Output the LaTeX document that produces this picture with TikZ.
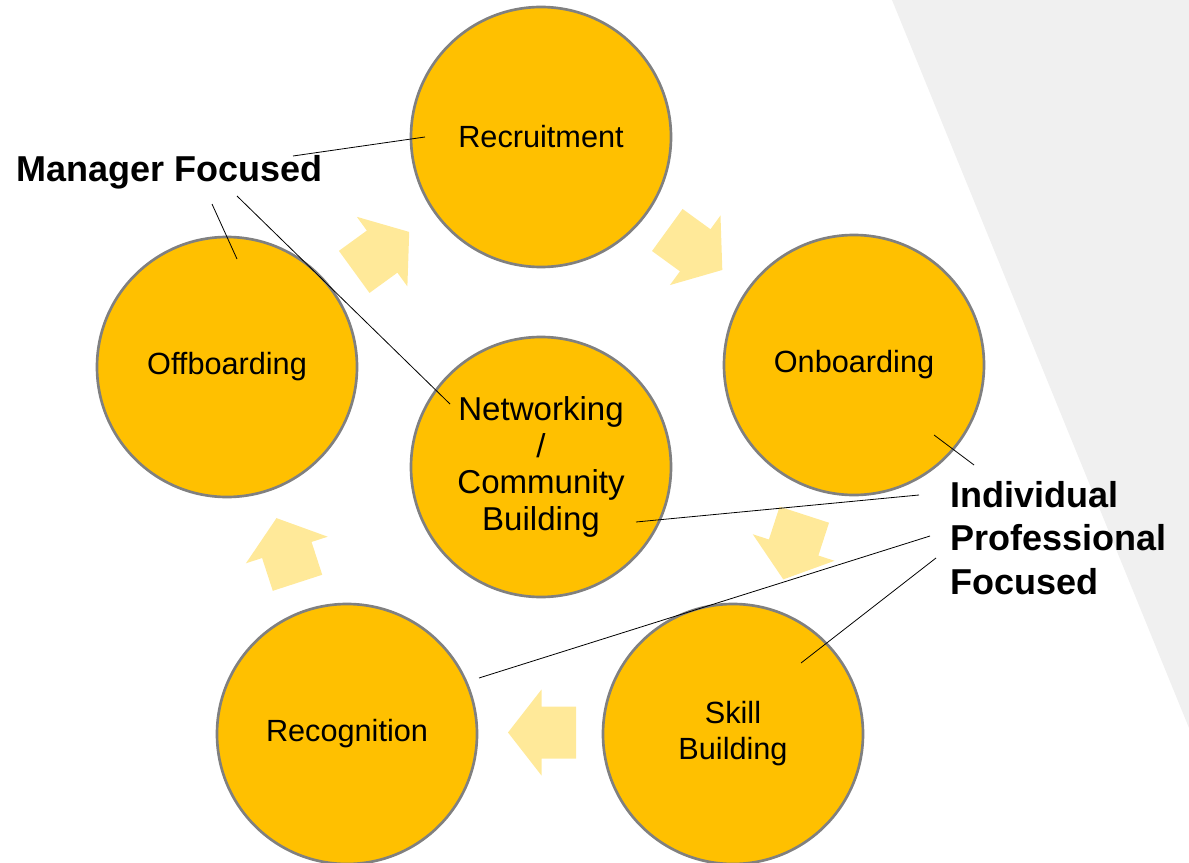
\documentclass[tikz,border=0pt]{standalone}
\usepackage{fontspec}
\setmainfont{Liberation Sans}
\definecolor{stagefill}{HTML}{FFC000}
\definecolor{stageline}{HTML}{808080}
\definecolor{arrowfill}{HTML}{FFE999}
\definecolor{panelgrey}{HTML}{F0F0F0}
\tikzset{
  cyclearrow/.pic={\fill[arrowfill] (0,-26) -- (34.5,-26) -- (34.5,-43) -- (68,0) -- (34.5,43) -- (34.5,26) -- (0,26) -- cycle;}
}
\begin{document}
\begin{tikzpicture}[x=0.75pt,y=-0.75pt,
  stage/.style={circle, draw=stageline, line width=2pt, fill=stagefill, minimum size=195pt, inner sep=0pt, align=center, font=\fontsize{23}{27}\selectfont},
  focus/.style={font=\bfseries\fontsize{27}{32.5}\selectfont, align=left, inner sep=0pt},
  leader/.style={draw=black, line width=0.6pt}
]
\useasboundingbox (0,0) rectangle (1189,863);
% grey panel
\fill[panelgrey] (892,0) -- (1189,0) -- (1189,728) -- cycle;
% cycle arrows
\pic[rotate=36]   at (354.2,271.9) {cyclearrow};
\pic[rotate=-36]  at (667.3,230)   {cyclearrow};
\pic[rotate=-108] at (804.3,514.7) {cyclearrow};
\pic[rotate=180]  at (576,732.5)   {cyclearrow};
\pic[rotate=108]  at (297.5,582.8) {cyclearrow};
% stages
\node[stage] (rec)  at (541,137) {Recruitment};
\node[stage] (onb)  at (854,365) {Onboarding};
\node[stage, font=\fontsize{24.8}{27.6}\selectfont] (net) at (541,467) {Networking\\/\\Community\\Building};
\node[stage] (off)  at (227,367) {Offboarding};
\node[stage] (skl)  at (733,734) {Skill\\Building};
\node[stage] (rcg)  at (347,734) {Recognition};
% labels
\node[focus, anchor=base west] (mgr) at (16,182) {Manager Focused};
\node[focus, anchor=north west] (ind) at (950,481) {Individual\\Professional\\Focused};
% leader end points
\coordinate (m1) at (293,156);
\coordinate (m2) at (425,137);
\coordinate (m3) at (212,204);
\coordinate (m4) at (237,259);
\coordinate (m5) at (237,196);
\coordinate (m6) at (450,404);
\coordinate (i1) at (974,465);
\coordinate (i2) at (934,435);
\coordinate (i3) at (919,495);
\coordinate (i4) at (636,522);
\coordinate (i5) at (930,536);
\coordinate (i6) at (479,678);
\coordinate (i7) at (936,558);
\coordinate (i8) at (801,663);
% leaders
\draw[leader] (m1) -- (m2);
\draw[leader] (m3) -- (m4);
\draw[leader] (m5) -- (m6);
\draw[leader] (i1) -- (i2);
\draw[leader] (i3) -- (i4);
\draw[leader] (i5) -- (i6);
\draw[leader] (i7) -- (i8);
\end{tikzpicture}
\end{document}
